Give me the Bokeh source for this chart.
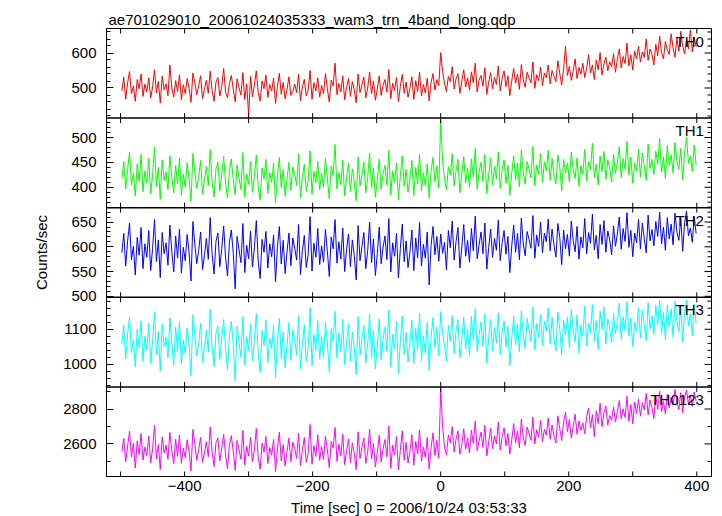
import math
from bokeh.plotting import figure
from bokeh.models import Range1d, FixedTicker, Label, Span
from bokeh.embed import file_html
from bokeh.resources import INLINE

title_text = "ae701029010_20061024035333_wam3_trn_4band_long.qdp"
x_title = "Time [sec] 0 = 2006/10/24 03:53:33"
y_title = "Counts/sec"

# bin start times (sec), 3-s bins
time_sec = list(range(-498, 400, 3))

th0 = [492, 531, 468, 515, 547, 483, 506, 462, 524, 498, 540, 476, 511, 489, 529,
       471, 503, 552, 486, 519, 457, 534, 495, 512, 478, 566, 501, 474, 521, 490,
       538, 466, 509, 484, 527, 499, 459, 543, 514, 481, 507, 535, 470, 496, 522,
       485, 548, 493, 462, 517, 530, 477, 504, 556, 488, 472, 513, 536, 497, 461,
       526, 501, 480, 544, 467, 512, 423, 533, 475, 508, 549, 486, 463, 520, 498,
       537, 473, 510, 491, 528, 456, 505, 542, 482, 516, 469, 497, 532, 479, 490,
       511, 487, 539, 464, 503, 525, 478, 494, 550, 468, 515, 492, 529, 474, 507,
       484, 541, 498, 460, 523, 506, 571, 481, 513, 489, 535, 466, 502, 527, 476,
       518, 495, 458, 540, 487, 509, 531, 472, 500, 546, 483, 520, 465, 497, 534,
       479, 508, 524, 488, 553, 470, 514, 493, 530, 461, 505, 539, 485, 517, 474,
       499, 532, 468, 521, 490, 545, 477, 510, 486, 528, 463, 516, 541, 494, 524,
       507, 601, 548, 512, 490, 533, 518, 561, 497, 526, 541, 485, 520, 552, 503,
       529, 494, 546, 515, 571, 489, 522, 536, 505, 558, 482, 517, 544, 498, 531,
       510, 563, 492, 527, 549, 504, 535, 478, 521, 556, 514, 540, 496, 567, 525,
       502, 545, 530, 515, 574, 499, 538, 521, 560, 507, 543, 529, 566, 512, 550,
       533, 518, 578, 541, 509, 555, 619, 536, 562, 522, 548, 583, 527, 559, 540,
       571, 530, 556, 595, 543, 566, 524, 580, 552, 601, 537, 569, 588, 549, 575,
       561, 598, 545, 582, 612, 557, 590, 570, 628, 563, 595, 551, 606, 584, 619,
       574, 603, 587, 640, 579, 611, 596, 566, 625, 592, 648, 601, 583, 633, 609,
       596, 655, 614, 588, 642, 605, 662, 620, 597, 638, 612, 666, 603, 645, 618]

th1 = [418, 452, 397, 436, 471, 405, 428, 383, 447, 412, 466, 391, 433, 409, 458,
       387, 425, 481, 402, 440, 376, 455, 414, 431, 395, 463, 420, 389, 444, 407,
       459, 384, 426, 401, 449, 416, 372, 468, 430, 398, 421, 454, 386, 413, 442,
       403, 476, 411, 380, 437, 451, 393, 424, 462, 408, 378, 434, 457, 415, 385,
       445, 419, 396, 470, 381, 427, 406, 453, 390, 423, 465, 400, 374, 439, 416,
       456, 388, 429, 410, 448, 369, 422, 460, 399, 435, 382, 417, 450, 394, 441,
       426, 404, 467, 379, 421, 446, 392, 413, 473, 386, 432, 409, 452, 395, 428,
       401, 458, 418, 377, 443, 424, 486, 397, 430, 406, 455, 383, 419, 448, 392,
       437, 412, 373, 461, 403, 425, 451, 389, 420, 469, 398, 438, 380, 414, 457,
       396, 427, 444, 405, 474, 385, 433, 410, 449, 375, 423, 463, 402, 436, 390,
       418, 454, 384, 440, 407, 466, 393, 429, 404, 447, 378, 432, 460, 411, 443,
       399, 535, 452, 416, 395, 441, 425, 468, 403, 434, 456, 389, 427, 462, 409,
       438, 400, 457, 421, 478, 396, 431, 450, 412, 466, 387, 425, 459, 405, 442,
       417, 471, 398, 436, 455, 408, 444, 384, 428, 463, 415, 449, 401, 475, 430,
       406, 452, 437, 419, 482, 403, 445, 426, 468, 410, 451, 433, 474, 414, 458,
       422, 407, 465, 440, 393, 456, 429, 448, 411, 471, 436, 418, 459, 402, 444,
       427, 476, 413, 452, 435, 489, 420, 446, 405, 463, 431, 472, 416, 455, 439,
       410, 466, 428, 450, 481, 419, 458, 437, 492, 425, 461, 408, 449, 433, 477,
       421, 469, 442, 414, 487, 438, 456, 426, 473, 447, 498, 430, 461, 418, 484,
       443, 465, 429, 490, 452, 436, 478, 415, 470, 501, 448, 463, 432, 485, 445]

th2 = [588, 627, 561, 612, 648, 574, 601, 543, 619, 583, 639, 556, 606, 579, 633,
       552, 597, 655, 570, 614, 538, 629, 586, 608, 563, 644, 591, 549, 622, 577,
       636, 547, 599, 572, 625, 589, 531, 651, 604, 566, 593, 630, 554, 582, 617,
       575, 659, 585, 545, 611, 628, 560, 596, 642, 578, 541, 609, 634, 587, 515,
       621, 594, 568, 647, 548, 603, 576, 632, 559, 598, 653, 571, 536, 615, 589,
       631, 557, 606, 580, 624, 529, 600, 641, 565, 613, 546, 590, 628, 562, 618,
       597, 573, 645, 544, 592, 623, 558, 584, 661, 551, 607, 579, 637, 564, 602,
       569, 635, 591, 540, 620, 596, 655, 567, 610, 575, 638, 550, 595, 626, 560,
       614, 583, 533, 643, 572, 601, 629, 556, 593, 650, 568, 616, 542, 586, 640,
       566, 599, 622, 574, 657, 549, 608, 581, 627, 537, 597, 646, 570, 612, 558,
       590, 634, 552, 618, 578, 649, 561, 605, 577, 630, 523, 603, 641, 584, 621,
       571, 626, 587, 609, 553, 633, 598, 652, 573, 611, 639, 557, 600, 645, 581,
       613, 569, 637, 592, 662, 576, 604, 630, 586, 648, 555, 599, 636, 579, 617,
       593, 654, 572, 608, 633, 585, 621, 548, 602, 644, 589, 627, 574, 658, 606,
       582, 631, 615, 597, 663, 577, 624, 601, 650, 588, 628, 610, 656, 592, 636,
       603, 579, 647, 619, 564, 634, 596, 625, 581, 652, 612, 590, 641, 575, 620,
       598, 657, 586, 629, 607, 666, 594, 623, 576, 645, 605, 653, 589, 632, 614,
       584, 642, 601, 626, 660, 595, 637, 611, 669, 599, 633, 580, 628, 608, 655,
       596, 648, 617, 588, 664, 612, 635, 602, 651, 621, 670, 606, 640, 593, 659,
       616, 646, 604, 668, 630, 613, 657, 591, 649, 672, 622, 638, 609, 661, 627]

th3 = [1058, 1112, 1016, 1087, 1135, 1034, 1071, 992, 1101, 1046, 1124, 1009, 1080, 1041, 1118,
       1003, 1066, 1148, 1028, 1094, 981, 1115, 1052, 1077, 1019, 1132, 1062, 997, 1106, 1037,
       1121, 1001, 1069, 1032, 1104, 1055, 968, 1141, 1084, 1024, 1060, 1117, 1006, 1048, 1097,
       1036, 1157, 1050, 994, 1089, 1109, 1014, 1073, 1128, 1043, 985, 1082, 1123, 1057, 954,
       1108, 1064, 1021, 1137, 999, 1079, 1039, 1114, 1011, 1068, 1145, 1030, 977, 1096, 1053,
       1127, 1005, 1075, 1044, 1110, 962, 1062, 1131, 1017, 1092, 990, 1056, 1119, 1012, 1099,
       1070, 1027, 1139, 988, 1059, 1113, 1008, 1047, 1162, 996, 1085, 1040, 1125, 1015, 1078,
       1022, 1120, 1063, 979, 1102, 1067, 1151, 1018, 1090, 1035, 1129, 1000, 1061, 1116, 1010,
       1093, 1049, 971, 1136, 1026, 1074, 1111, 1004, 1057, 1143, 1020, 1098, 987, 1051, 1130,
       1013, 1072, 1107, 1038, 1155, 993, 1086, 1045, 1122, 975, 1066, 1138, 1029, 1091, 1007,
       1063, 1126, 1002, 1103, 1042, 1146, 1011, 1081, 1033, 1119, 983, 1076, 1133, 1048, 1106,
       1025, 1150, 1088, 1054, 1010, 1112, 1065, 1140, 1031, 1095, 1127, 1019, 1073, 1134, 1044,
       1100, 1023, 1137, 1069, 1159, 1037, 1083, 1121, 1052, 1144, 1003, 1077, 1128, 1039, 1105,
       1061, 1147, 1028, 1092, 1124, 1050, 1108, 996, 1074, 1138, 1056, 1115, 1035, 1153, 1087,
       1045, 1131, 1098, 1066, 1163, 1041, 1117, 1079, 1142, 1055, 1123, 1094, 1160, 1059, 1134,
       1072, 1038, 1149, 1101, 1027, 1126, 1084, 1135, 1048, 1156, 1097, 1064, 1141, 1033, 1113,
       1081, 1166, 1053, 1118, 1090, 1171, 1067, 1125, 1043, 1152, 1099, 1164, 1058, 1129, 1104,
       1062, 1145, 1087, 1122, 1174, 1071, 1136, 1096, 1178, 1080, 1132, 1051, 1119, 1093, 1161,
       1075, 1154, 1110, 1068, 1176, 1102, 1139, 1085, 1167, 1114, 1182, 1089, 1147, 1070, 1169,
       1106, 1158, 1078, 1180, 1120, 1095, 1165, 1063, 1150, 1184, 1109, 1143, 1082, 1172, 1116]

th0123 = [2556, 2631, 2497, 2588, 2672, 2524, 2603, 2461, 2618, 2540, 2659, 2508, 2582, 2533, 2645,
          2492, 2571, 2708, 2515, 2597, 2453, 2640, 2549, 2594, 2512, 2666, 2563, 2486, 2627, 2529,
          2651, 2489, 2576, 2521, 2624, 2558, 2445, 2683, 2599, 2506, 2567, 2638, 2494, 2548, 2612,
          2527, 2697, 2552, 2470, 2607, 2635, 2503, 2574, 2655, 2536, 2458, 2592, 2648, 2559, 2449,
          2620, 2568, 2511, 2677, 2480, 2586, 2530, 2639, 2499, 2565, 2689, 2519, 2455, 2604, 2553,
          2643, 2487, 2579, 2535, 2626, 2442, 2569, 2668, 2502, 2596, 2474, 2557, 2633, 2498, 2610,
          2573, 2517, 2661, 2476, 2562, 2637, 2495, 2545, 2712, 2483, 2589, 2528, 2652, 2505, 2584,
          2510, 2646, 2566, 2464, 2615, 2575, 2694, 2500, 2598, 2531, 2656, 2481, 2561, 2629, 2493,
          2606, 2546, 2452, 2669, 2516, 2580, 2634, 2488, 2554, 2685, 2513, 2601, 2468, 2551, 2649,
          2496, 2572, 2625, 2526, 2703, 2460, 2593, 2538, 2642, 2451, 2564, 2676, 2507, 2609, 2490,
          2560, 2653, 2477, 2614, 2542, 2681, 2501, 2583, 2523, 2636, 2457, 2577, 2664, 2534, 2621,
          2518, 2918, 2702, 2581, 2537, 2652, 2606, 2699, 2553, 2628, 2675, 2541, 2596, 2687, 2570,
          2634, 2548, 2679, 2603, 2731, 2562, 2617, 2668, 2580, 2706, 2531, 2611, 2690, 2572, 2647,
          2599, 2724, 2564, 2641, 2693, 2589, 2660, 2542, 2623, 2717, 2607, 2674, 2578, 2743, 2636,
          2591, 2697, 2662, 2620, 2754, 2600, 2681, 2638, 2735, 2612, 2684, 2651, 2748, 2628, 2709,
          2645, 2606, 2761, 2688, 2619, 2726, 2782, 2671, 2739, 2633, 2702, 2770, 2655, 2733, 2678,
          2721, 2659, 2756, 2804, 2694, 2768, 2642, 2790, 2716, 2833, 2699, 2779, 2818, 2708, 2762,
          2736, 2812, 2725, 2787, 2849, 2744, 2801, 2752, 2873, 2730, 2826, 2715, 2840, 2774, 2858,
          2759, 2837, 2794, 2889, 2767, 2852, 2809, 2746, 2876, 2798, 2902, 2785, 2843, 2772, 2885,
          2806, 2866, 2821, 2913, 2839, 2797, 2894, 2780, 2869, 2908, 2828, 2880, 2815, 2897, 2846]

series = [th0, th1, th2, th3, th0123]
panel_names = ["TH0", "TH1", "TH2", "TH3", "TH0123"]
panel_colors = ["#ff0000", "#00ff00", "#0000ff", "#00ffff", "#ff00ff"]
panel_lo = [414, 359, 498, 936, 2413]
panel_hi = [670, 539, 679, 1191, 2927]
label_step = [100, 50, 50, 100, 200]
minor_step = [20, 10, 10, 20, 100]

x_tick_values = [-500, -400, -300, -200, -100, 0, 100, 200, 300, 400]
x_label_values = [-400, -200, 0, 200, 400]
x_label_text = ["\u2212400", "\u2212200", "0", "200", "400"]

FONT = "Liberation Sans"
FS = "15px"
N = len(series)
FRAME_H = 448
PANEL_PX = FRAME_H / N
X_LO, X_HI = -522, 423

p = figure(frame_width=605, frame_height=FRAME_H,
           x_range=Range1d(X_LO, X_HI), y_range=Range1d(0, N),
           output_backend="svg", toolbar_location=None,
           min_border_left=106, min_border_right=8,
           min_border_top=28, min_border_bottom=39,
           title=title_text)
p.title.text_font = FONT
p.title.text_font_size = FS
p.title.text_font_style = "normal"
p.title.text_color = "black"
p.title.align = "left"
p.title.offset = 2
p.title.standoff = 2
p.xgrid.visible = False
p.ygrid.visible = False
p.outline_line_color = "black"
p.outline_line_width = 1
p.background_fill_color = "white"
p.border_fill_color = "white"

extra = {}
major_pos, minor_pos, overrides = [], [], {}
for k in range(N):
    lo, hi = panel_lo[k], panel_hi[k]
    span = hi - lo
    slot = N - 1 - k
    extra["r%d" % k] = Range1d(lo - slot * span, hi + k * span)
    v = math.ceil(lo / label_step[k]) * label_step[k]
    while v <= hi:
        pos = round(slot + (v - lo) / span, 6)
        major_pos.append(pos)
        overrides[pos] = str(v)
        v += label_step[k]
    v = math.ceil(lo / minor_step[k]) * minor_step[k]
    while v <= hi:
        if v % label_step[k] != 0:
            minor_pos.append(round(slot + (v - lo) / span, 6))
        v += minor_step[k]
p.extra_y_ranges = extra

for k in range(N):
    vals = series[k]
    n = min(len(time_sec), len(vals))
    p.line(time_sec[:n], vals[:n], y_range_name="r%d" % k,
           line_color=panel_colors[k], line_width=1)

# panel separators
for b in range(1, N):
    p.add_layout(Span(location=b, dimension="width", line_color="black", line_width=1.5))

# x tick marks on every panel edge (pointing into the neighbouring panels)
tx, ty = [], []
for b in range(0, N + 1):
    for xv in x_tick_values:
        tx.append(xv)
        ty.append(b)
p.scatter(tx, ty, marker="dash", size=10, angle=math.pi / 2,
          line_color="black", line_width=1)

# y tick marks on the right edge (inward)
p.scatter([X_HI] * len(major_pos), major_pos, marker="dash", size=14,
          line_color="black", line_width=1)
p.scatter([X_HI] * len(minor_pos), minor_pos, marker="dash", size=8,
          line_color="black", line_width=1)

ya = p.yaxis[0]
ya.ticker = FixedTicker(ticks=major_pos, minor_ticks=minor_pos)
ya.major_label_overrides = overrides
ya.major_tick_in = 7
ya.major_tick_out = 0
ya.minor_tick_in = 4
ya.minor_tick_out = 0
ya.major_label_standoff = 10
ya.major_label_text_font = FONT
ya.major_label_text_font_size = FS
ya.major_label_text_color = "black"
ya.axis_line_color = "black"
ya.major_tick_line_color = "black"
ya.minor_tick_line_color = "black"
ya.axis_label = y_title
ya.axis_label_text_font = FONT
ya.axis_label_text_font_size = FS
ya.axis_label_text_font_style = "normal"
ya.axis_label_text_color = "black"
ya.axis_label_standoff = 10

xa = p.xaxis[0]
xa.ticker = FixedTicker(ticks=x_label_values, minor_ticks=[])
xa.major_label_overrides = dict(zip(x_label_values, x_label_text))
xa.major_tick_in = 0
xa.major_tick_out = 0
xa.major_label_standoff = 4
xa.major_label_text_font = FONT
xa.major_label_text_font_size = FS
xa.major_label_text_color = "black"
xa.axis_line_color = "black"
xa.axis_label = x_title
xa.axis_label_text_font = FONT
xa.axis_label_text_font_size = FS
xa.axis_label_text_font_style = "normal"
xa.axis_label_text_color = "black"
xa.axis_label_standoff = 5

for k in range(N):
    slot = N - 1 - k
    p.add_layout(Label(x=411, y=slot + 1 - 4 / PANEL_PX, text=panel_names[k],
                       text_align="right", text_baseline="top",
                       text_font=FONT, text_font_size=FS, text_color="black"))

open("out.html", "w").write(file_html(p, INLINE))
